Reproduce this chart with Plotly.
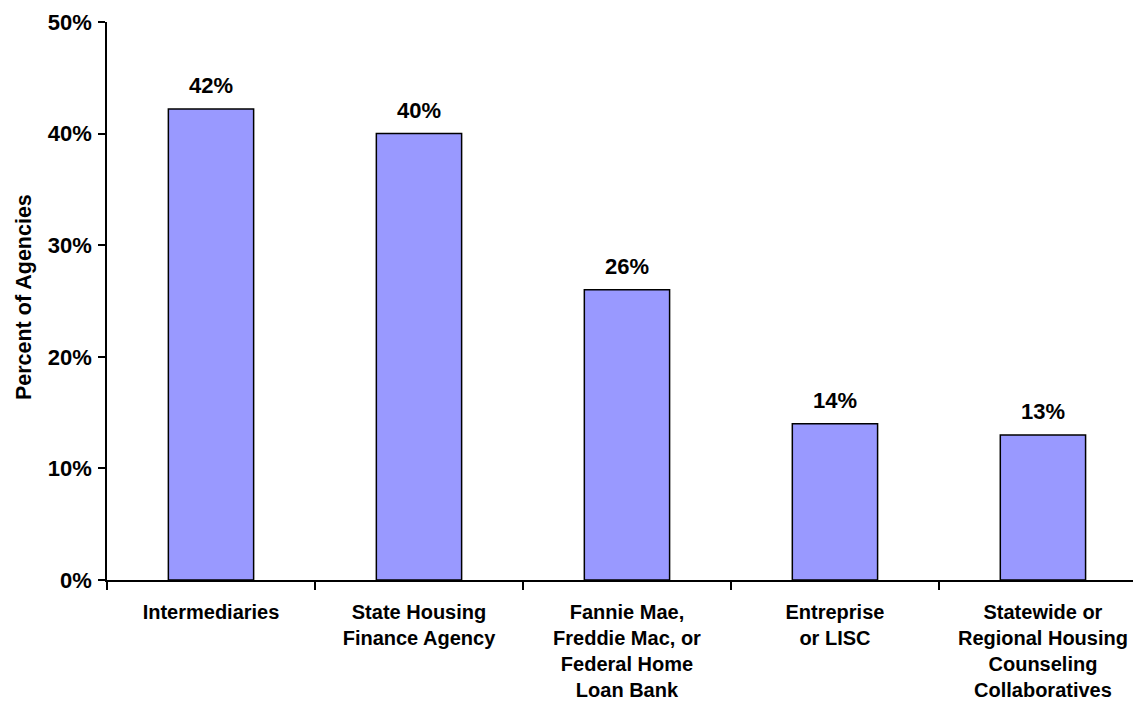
import plotly.graph_objects as go

categories = [
    "Intermediaries",
    "State Housing<br>Finance Agency",
    "Fannie Mae,<br>Freddie Mac, or<br>Federal Home<br>Loan Bank",
    "Entreprise<br>or LISC",
    "Statewide or<br>Regional Housing<br>Counseling<br>Collaboratives",
]
values = [42.2, 40, 26, 14, 13]
value_labels = ["42%", "40%", "26%", "14%", "13%"]
y_ticks = [0, 10, 20, 30, 40, 50]
y_tick_labels = ["0%", "10%", "20%", "30%", "40%", "50%"]

FONT = "Liberation Sans, Arial, sans-serif"

fig = go.Figure()
fig.add_trace(go.Bar(
    x=categories,
    y=values,
    marker=dict(color="#9999FF", line=dict(color="#000000", width=1.5)),
    hoverinfo="skip",
))

for c, v, t in zip(categories, values, value_labels):
    fig.add_annotation(
        x=c, y=v, text="<b>%s</b>" % t, showarrow=False,
        yanchor="bottom", yshift=9,
        font=dict(family=FONT, size=22, color="#000000"),
    )

fig.add_annotation(
    xref="paper", yref="paper",
    x=(24 - 107) / 1026, y=0.507, xanchor="center", yanchor="middle",
    text="<b>Percent of Agencies</b>", textangle=-90, showarrow=False,
    font=dict(family=FONT, size=21.5, color="#000000"),
)

fig.update_layout(
    width=1133, height=704,
    margin=dict(l=107, r=0, t=22, b=124),
    paper_bgcolor="white", plot_bgcolor="white",
    bargap=0.59,
    showlegend=False,
    font=dict(family=FONT, color="#000000"),
)
fig.update_xaxes(
    type="category",
    range=[-0.5, 4.433],
    showline=True, linecolor="#000000", linewidth=1.5,
    ticks="outside", tickson="boundaries", ticklen=8, tickcolor="#000000", tickwidth=1.5,
    tickfont=dict(family=FONT, size=20, color="#000000", weight="bold"),
    ticklabelstandoff=13,
    showgrid=False, zeroline=False,
)
fig.update_yaxes(
    range=[0, 50],
    tickvals=y_ticks, ticktext=y_tick_labels,
    showline=True, linecolor="#000000", linewidth=1.5,
    ticks="outside", ticklen=7, tickcolor="#000000", tickwidth=1.5,
    tickfont=dict(family=FONT, size=22, color="#000000", weight="bold"),
    ticklabelstandoff=2,
    showgrid=False, zeroline=False,
)

fig.write_html(
    "out.html",
    config={"displayModeBar": False},
    post_script="document.body.style.margin='0';",
)
